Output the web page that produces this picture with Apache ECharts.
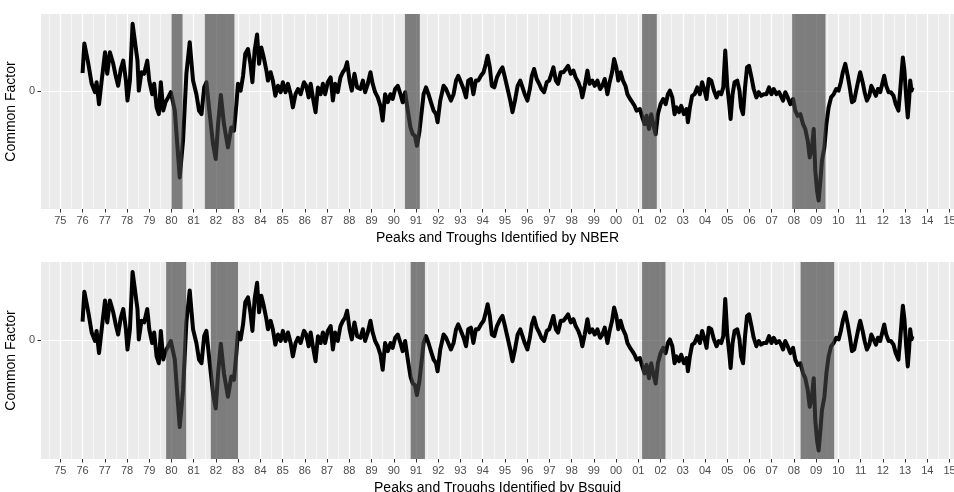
<!DOCTYPE html>
<html>
<head>
<meta charset="utf-8">
<script src="https://cdn.jsdelivr.net/npm/echarts@6/dist/echarts.min.js"></script>
<style>
  html, body { margin: 0; padding: 0; background: #fff; }
  #chart { width: 954px; height: 492px; }
</style>
</head>
<body>
<div id="chart"></div>
<script>
// common factor (decimal years)
var dates = [
  1976.00, 1976.08, 1976.26, 1976.41, 1976.56, 1976.63, 1976.74, 1976.86, 1977.01, 1977.11,
  1977.23, 1977.38, 1977.49, 1977.60, 1977.72, 1977.83, 1977.95, 1978.02, 1978.13, 1978.25,
  1978.35, 1978.47, 1978.53, 1978.65, 1978.77, 1978.91, 1979.00, 1979.13, 1979.22, 1979.33,
  1979.43, 1979.52, 1979.63, 1979.73, 1979.85, 1979.97, 1980.15, 1980.27, 1980.37, 1980.52,
  1980.67, 1980.82, 1980.97, 1981.12, 1981.24, 1981.35, 1981.47, 1981.57, 1981.72, 1981.87,
  1981.99, 1982.10, 1982.22, 1982.36, 1982.54, 1982.69, 1982.81, 1982.92, 1982.99, 1983.11,
  1983.22, 1983.32, 1983.44, 1983.55, 1983.64, 1983.74, 1983.85, 1983.94, 1984.04, 1984.15,
  1984.27, 1984.34, 1984.46, 1984.56, 1984.67, 1984.79, 1984.91, 1985.01, 1985.13, 1985.24,
  1985.36, 1985.46, 1985.58, 1985.69, 1985.81, 1985.96, 1986.06, 1986.17, 1986.26, 1986.36,
  1986.48, 1986.59, 1986.71, 1986.81, 1986.91, 1987.03, 1987.16, 1987.26, 1987.36, 1987.48,
  1987.60, 1987.71, 1987.81, 1987.90, 1988.01, 1988.11, 1988.23, 1988.35, 1988.50, 1988.61,
  1988.71, 1988.83, 1988.95, 1989.05, 1989.16, 1989.28, 1989.40, 1989.50, 1989.61, 1989.73,
  1989.85, 1989.95, 1990.06, 1990.18, 1990.30, 1990.40, 1990.51, 1990.63, 1990.75, 1990.85,
  1990.95, 1991.04, 1991.15, 1991.26, 1991.34, 1991.45, 1991.56, 1991.67, 1991.79, 1991.90,
  1991.97, 1992.09, 1992.24, 1992.35, 1992.45, 1992.57, 1992.69, 1992.80, 1992.90, 1993.02,
  1993.14, 1993.25, 1993.35, 1993.47, 1993.58, 1993.69, 1993.80, 1993.92, 1994.04, 1994.14,
  1994.22, 1994.32, 1994.41, 1994.52, 1994.64, 1994.79, 1994.89, 1995.00, 1995.12, 1995.24,
  1995.34, 1995.45, 1995.57, 1995.69, 1995.79, 1995.89, 1996.01, 1996.12, 1996.21, 1996.31,
  1996.43, 1996.54, 1996.64, 1996.76, 1996.88, 1996.99, 1997.09, 1997.18, 1997.29, 1997.39,
  1997.51, 1997.63, 1997.74, 1997.84, 1997.96, 1998.08, 1998.18, 1998.30, 1998.41, 1998.48,
  1998.59, 1998.71, 1998.81, 1998.93, 1999.04, 1999.16, 1999.28, 1999.38, 1999.49, 1999.61,
  1999.71, 1999.82, 1999.91, 2000.01, 2000.10, 2000.20, 2000.31, 2000.42, 2000.51, 2000.63,
  2000.73, 2000.83, 2000.92, 2001.07, 2001.18, 2001.28, 2001.37, 2001.48, 2001.58, 2001.67,
  2001.78, 2001.88, 2002.00, 2002.12, 2002.23, 2002.33, 2002.42, 2002.53, 2002.63, 2002.72,
  2002.83, 2002.93, 2003.05, 2003.17, 2003.23, 2003.32, 2003.42, 2003.53, 2003.65, 2003.77,
  2003.87, 2003.98, 2004.07, 2004.17, 2004.28, 2004.40, 2004.52, 2004.62, 2004.73, 2004.82,
  2004.91, 2005.00, 2005.09, 2005.15, 2005.24, 2005.33, 2005.45, 2005.55, 2005.62, 2005.71,
  2005.80, 2005.89, 2005.98, 2006.09, 2006.19, 2006.31, 2006.42, 2006.52, 2006.64, 2006.76,
  2006.88, 2006.99, 2007.09, 2007.21, 2007.33, 2007.39, 2007.51, 2007.61, 2007.72, 2007.84,
  2007.96, 2008.06, 2008.17, 2008.29, 2008.41, 2008.51, 2008.62, 2008.71, 2008.81, 2008.89,
  2008.96, 2009.04, 2009.11, 2009.19, 2009.26, 2009.37, 2009.46, 2009.56, 2009.67, 2009.79,
  2009.90, 2010.01, 2010.11, 2010.20, 2010.31, 2010.42, 2010.51, 2010.61, 2010.71, 2010.83,
  2010.94, 2010.98, 2011.09, 2011.18, 2011.28, 2011.39, 2011.48, 2011.58, 2011.69, 2011.78,
  2011.88, 2011.99, 2012.06, 2012.15, 2012.26, 2012.36, 2012.48, 2012.58, 2012.70, 2012.78,
  2012.85, 2012.90, 2012.97, 2013.05, 2013.12, 2013.18, 2013.23, 2013.29, 2013.33
];
var factor = [
  0.45, 1.19, 0.68, 0.18, -0.03, 0.22, -0.33, 0.26, 0.97, 0.43,
  0.97, 0.68, 0.38, 0.13, 0.55, 0.76, 0.26, -0.24, 0.26, 1.68,
  1.26, 0.76, 0.01, 0.47, 0.43, 0.76, 0.26, -0.08, 0.18, -0.41,
  -0.58, 0.22, -0.49, -0.28, -0.16, -0.03, -0.49, -1.41, -2.16, -1.24,
  0.43, 1.22, 0.26, -0.08, -0.49, -0.58, 0.09, 0.22, -0.58, -1.33,
  -1.70, -0.80, -0.10, -0.83, -1.41, -0.91, -0.99, -0.33, 0.18, 0.01,
  0.38, 0.93, 1.05, 0.68, 0.22, 1.01, 1.41, 0.68, 1.09, 0.84,
  0.51, 0.26, 0.47, 0.26, -0.12, 0.13, -0.03, 0.22, -0.03, 0.18,
  -0.08, -0.41, -0.08, 0.05, -0.08, 0.22, 0.13, -0.16, 0.18, -0.16,
  -0.53, 0.09, -0.08, 0.18, -0.08, 0.22, 0.34, -0.24, 0.18, -0.03,
  0.34, 0.47, 0.55, 0.72, 0.26, 0.01, 0.43, 0.09, 0.05, 0.26,
  -0.03, 0.18, 0.47, 0.18, -0.03, -0.16, -0.37, -0.74, -0.08, -0.28,
  -0.08, -0.20, 0.05, 0.13, -0.08, -0.28, -0.03, -0.49, -0.91, -1.08,
  -1.12, -1.37, -1.03, -0.49, -0.08, 0.09, -0.08, -0.28, -0.49, -0.58,
  -0.78, -0.24, 0.13, 0.05, -0.08, -0.24, -0.08, 0.26, 0.38, 0.22,
  0.05, -0.16, 0.26, 0.30, -0.08, 0.26, 0.26, 0.38, 0.47, 0.68,
  0.88, 0.59, 0.13, 0.09, 0.34, 0.51, 0.59, 0.34, 0.05, -0.24,
  -0.53, -0.24, 0.13, 0.26, 0.09, -0.08, -0.24, 0.05, 0.38, 0.55,
  0.30, 0.18, 0.05, -0.03, 0.22, 0.26, 0.43, 0.59, 0.26, 0.18,
  0.47, 0.47, 0.55, 0.63, 0.43, 0.51, 0.34, 0.22, 0.05, -0.16,
  0.13, 0.51, 0.18, 0.26, 0.13, 0.26, 0.05, 0.13, 0.30, -0.08,
  0.22, 0.47, 0.80, 0.59, 0.26, 0.47, 0.26, 0.13, -0.08, -0.20,
  -0.28, -0.37, -0.49, -0.45, -0.66, -0.83, -0.62, -0.95, -0.58, -0.83,
  -1.08, -0.58, -0.33, -0.20, -0.33, -0.08, 0.01, -0.16, -0.58, -0.41,
  -0.53, -0.37, -0.58, -0.45, -0.78, -0.41, -0.12, -0.08, 0.09, -0.08,
  0.22, 0.01, -0.20, 0.30, 0.26, 0.01, -0.16, -0.03, -0.08, 0.09,
  1.01, 0.13, -0.33, -0.70, -0.08, 0.22, 0.26, 0.01, -0.41, -0.58,
  0.09, 0.59, 0.63, 0.34, 0.05, -0.16, -0.03, -0.12, -0.08, -0.08,
  0.09, -0.08, 0.05, -0.08, -0.03, -0.08, -0.24, -0.03, -0.16, -0.33,
  -0.20, -0.49, -0.62, -0.58, -0.83, -0.95, -1.24, -1.66, -1.41, -0.95,
  -1.99, -2.49, -2.74, -2.24, -1.74, -1.41, -0.83, -0.41, -0.16, -0.08,
  0.05, 0.01, 0.22, 0.47, 0.68, 0.38, 0.09, -0.28, -0.24, 0.09,
  0.38, 0.47, 0.22, -0.03, -0.24, -0.12, 0.13, 0.01, -0.12, 0.05,
  -0.03, 0.22, 0.38, 0.13, -0.03, -0.03, -0.12, -0.33, -0.49, 0.01,
  0.51, 0.84, 0.51, -0.16, -0.66, -0.24, 0.26, 0.01, 0.09
];

// shaded periods: start, end
var nberStart = [1980.00, 1981.50, 1990.50, 2001.17, 2007.92];
var nberEnd = [1980.50, 1982.83, 1991.17, 2001.83, 2009.42];
var bsquidStart = [1979.76, 1981.77, 1990.76, 2001.17, 2008.30];
var bsquidEnd = [1980.66, 1983.00, 1991.40, 2002.22, 2009.81];

var tickYears = [
  1975, 1976, 1977, 1978, 1979, 1980, 1981, 1982, 1983, 1984, 1985, 1986, 1987, 1988,
  1989, 1990, 1991, 1992, 1993, 1994, 1995, 1996, 1997, 1998, 1999, 2000, 2001, 2002,
  2003, 2004, 2005, 2006, 2007, 2008, 2009, 2010, 2011, 2012, 2013, 2014, 2015
];
var tickLabels = [
  '75', '76', '77', '78', '79', '80', '81', '82', '83', '84', '85', '86', '87', '88',
  '89', '90', '91', '92', '93', '94', '95', '96', '97', '98', '99', '00', '01', '02',
  '03', '04', '05', '06', '07', '08', '09', '10', '11', '12', '13', '14', '15'
];
var halfYears = [
  1974.5, 1975.5, 1976.5, 1977.5, 1978.5, 1979.5, 1980.5, 1981.5, 1982.5, 1983.5, 1984.5,
  1985.5, 1986.5, 1987.5, 1988.5, 1989.5, 1990.5, 1991.5, 1992.5, 1993.5, 1994.5, 1995.5,
  1996.5, 1997.5, 1998.5, 1999.5, 2000.5, 2001.5, 2002.5, 2003.5, 2004.5, 2005.5, 2006.5,
  2007.5, 2008.5, 2009.5, 2010.5, 2011.5, 2012.5, 2013.5, 2014.5
];
var yTicks = [0];
var yLabels = ['0'];
var titles = ['Peaks and Troughs Identified by NBER', 'Peaks and Troughs Identified by Bsquid'];

var xMin = 1974.13, xMax = 2015.2;
var yMin = -2.95, yMax = 1.925;
var font = 'Liberation Sans, Arial, Helvetica, sans-serif';

var chartDom = document.getElementById('chart');
var myChart = echarts.init(chartDom, null, {renderer: 'canvas'});

var lineData = dates.map(function (d, i) { return [d, factor[i]]; });

makeBands = (starts, ends) => starts.map(function (s, i) { return [s, ends[i]]; });

renderBand = (params, api) => {
    var p0 = api.coord([api.value(0), 0]);
    var p1 = api.coord([api.value(1), 0]);
    var cs = params.coordSys;
    return {
        type: 'rect',
        shape: {x: p0[0], y: cs.y, width: p1[0] - p0[0], height: cs.height},
        style: {fill: 'rgba(66,66,66,0.65)'}
    };
};

majorX = (gridIndex, title) => ({
    type: 'value',
    gridIndex: gridIndex,
    min: xMin,
    max: xMax,
    position: 'bottom',
    axisLine: {show: false, onZero: false},
    axisTick: {show: true, length: 3.5, customValues: tickYears, lineStyle: {color: '#333333', width: 1}},
    axisLabel: {
        customValues: tickYears,
        margin: 6,
        color: '#4D4D4D',
        fontSize: 11,
        fontFamily: font,
        formatter: function (v) { return tickLabels[tickYears.indexOf(Math.round(v))]; }
    },
    splitLine: {show: true, lineStyle: {color: '#ffffff', width: 1.2}},
    name: title,
    nameLocation: 'middle',
    nameGap: 22,
    nameTextStyle: {color: '#000', fontSize: 14, fontFamily: font}
});

minorX = (gridIndex) => ({
    type: 'value',
    gridIndex: gridIndex,
    min: xMin,
    max: xMax,
    position: 'top',
    axisLine: {show: false, onZero: false},
    axisTick: {show: false, customValues: halfYears},
    axisLabel: {show: false, customValues: halfYears},
    splitLine: {show: true, lineStyle: {color: '#ffffff', width: 0.6}}
});

yAxisOf = (gridIndex) => ({
    type: 'value',
    gridIndex: gridIndex,
    min: yMin,
    max: yMax,
    axisLine: {show: false, onZero: false},
    axisTick: {show: true, length: 3.5, customValues: yTicks, lineStyle: {color: '#333333', width: 1}},
    axisLabel: {
        customValues: yTicks,
        margin: 6,
        color: '#4D4D4D',
        fontSize: 11,
        fontFamily: font,
        formatter: function (v) { return yLabels[yTicks.indexOf(Math.round(v))]; }
    },
    splitLine: {show: true, lineStyle: {color: '#ffffff', width: 1.2}},
    name: 'Common Factor',
    nameLocation: 'middle',
    nameGap: 16,
    nameTextStyle: {color: '#000', fontSize: 14, fontFamily: font}
});

lineSeries = (xIndex, yIndex) => ({
    type: 'line',
    xAxisIndex: xIndex,
    yAxisIndex: yIndex,
    data: lineData,
    showSymbol: false,
    z: 2,
    lineStyle: {color: '#000000', width: 4, join: 'round'}
});

bandSeries = (xIndex, yIndex, bands) => ({
    type: 'custom',
    xAxisIndex: xIndex,
    yAxisIndex: yIndex,
    data: bands,
    encode: {x: [0, 1]},
    renderItem: renderBand,
    z: 5,
    silent: true
});

var option = {
    animation: false,
    backgroundColor: '#ffffff',
    grid: [
        {left: 41, top: 14, width: 913, height: 195, show: true, backgroundColor: '#EBEBEB', borderWidth: 0, outerBoundsMode: 'none'},
        {left: 41, top: 262, width: 913, height: 197, show: true, backgroundColor: '#EBEBEB', borderWidth: 0, outerBoundsMode: 'none'}
    ],
    xAxis: [majorX(0, titles[0]), minorX(0), majorX(1, titles[1]), minorX(1)],
    yAxis: [yAxisOf(0), yAxisOf(1)],
    series: [
        lineSeries(0, 0),
        bandSeries(0, 0, makeBands(nberStart, nberEnd)),
        lineSeries(2, 1),
        bandSeries(2, 1, makeBands(bsquidStart, bsquidEnd))
    ]
};

option && myChart.setOption(option);
</script>
</body>
</html>
